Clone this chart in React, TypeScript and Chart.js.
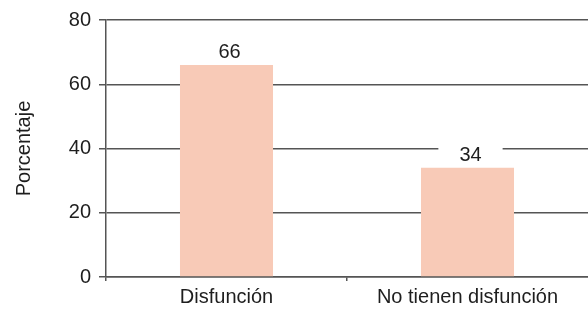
import React, { useEffect, useRef } from "react";
import { Chart, registerables } from "chart.js";

Chart.register(...registerables);

const categories = ["Disfunción", "No tienen disfunción"];
const values = [66, 34];
const yTicks = [0, 20, 40, 60, 80];
const yTitle = "Porcentaje";

const FONT = '"Liberation Sans", Arial, Helvetica, sans-serif';
const LINE = "#555555";
const TEXT = "#1e1e1e";
const BAR = "#F8CAB7";

const valueLabels = {
  id: "valueLabels",
  afterDatasetsDraw(chart: any) {
    const ctx = chart.ctx;
    const meta = chart.getDatasetMeta(0);
    ctx.save();
    ctx.font = `20px ${FONT}`;
    ctx.textAlign = "center";
    ctx.textBaseline = "alphabetic";
    meta.data.forEach((bar: any, i: number) => {
      const txt = String(values[i]);
      const x = bar.x + 3;
      const baseY = bar.y - 7;
      const w = ctx.measureText(txt).width + 42;
      const h = 20;
      ctx.fillStyle = "#ffffff";
      ctx.fillRect(x - w / 2, baseY - 17, w, h);
      ctx.fillStyle = TEXT;
      ctx.fillText(txt, x, baseY);
    });
    ctx.restore();
  },
};

export default function App() {
  const ref = useRef<HTMLCanvasElement | null>(null);
  useEffect(() => {
    if (!ref.current) return;
    const chart = new Chart(ref.current, {
      type: "bar",
      data: {
        labels: categories,
        datasets: [
          {
            data: values,
            backgroundColor: BAR,
            borderWidth: 0,
            categoryPercentage: 1,
            barPercentage: 0.386,
          },
        ],
      },
      options: {
        responsive: false,
        animation: false,
        layout: { padding: { top: 18, right: 0, left: 0, bottom: 0 } },
        plugins: {
          legend: { display: false },
          tooltip: { enabled: false },
        },
        scales: {
          x: {
            grid: {
              display: true,
              drawOnChartArea: false,
              drawTicks: true,
              tickLength: 4,
              color: (c: any) => (c.type === "tick" ? LINE : "rgba(0,0,0,0)"),
              lineWidth: 1.5,
              offset: true,
            },
            border: { display: true, color: LINE, width: 1.5 },
            ticks: {
              color: TEXT,
              font: { family: FONT, size: 20 },
              padding: 4,
              maxRotation: 0,
            },
            afterFit(scale: any) {
              scale.height = 32;
            },
          },
          y: {
            min: 0,
            max: 80,
            afterBuildTicks(scale: any) {
              scale.ticks = yTicks.map((v) => ({ value: v }));
            },
            grid: {
              color: LINE,
              lineWidth: 1.5,
              drawTicks: true,
              tickLength: 7,
            },
            border: { display: true, color: LINE, width: 1.5 },
            ticks: {
              color: TEXT,
              font: { family: FONT, size: 20 },
              padding: 8,
            },
            title: {
              display: true,
              text: yTitle,
              color: TEXT,
              font: { family: FONT, size: 20 },
              padding: { top: 12, bottom: 0 },
            },
            afterFit(scale: any) {
              scale.width = 106;
            },
          },
        },
      },
      plugins: [valueLabels],
    });
    return () => chart.destroy();
  }, []);
  return (
    <div style={{ position: "absolute", left: 0, top: 0, width: 588, height: 309, background: "#fff" }}>
      <canvas ref={ref} width={588} height={309} style={{ display: "block" }} />
    </div>
  );
}
